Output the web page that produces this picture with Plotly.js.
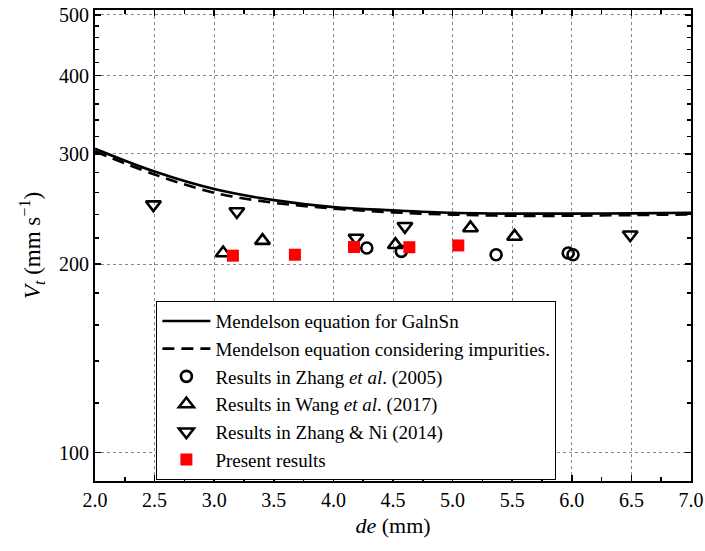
<!DOCTYPE html>
<html>
<head>
<meta charset="utf-8">
<script src="https://cdn.plot.ly/plotly-3.0.1.min.js"></script>
<style>
  html, body { margin: 0; padding: 0; background: #fff; }
  #chart { width: 705px; height: 551px; }
  #chart text, #chart tspan { font-family: 'Liberation Serif', serif !important; }
</style>
</head>
<body>
<div id="chart"></div>
<script>
// Curves
const curveX = [2.0, 2.5, 3.0, 3.5, 4.0, 4.5, 5.0, 5.5, 6.0, 6.5, 7.0];
const mendelsonY = [305.6, 281.0, 263.5, 253.0, 246.6, 243.7, 241.5, 240.8, 240.8, 241.0, 241.5];
const impuritiesY = [302.7, 278.0, 260.0, 250.6, 245.3, 241.9, 239.9, 238.9, 238.9, 239.5, 240.0];

// Zhang et al. (2005)
const zhang2005X = [4.28, 4.57, 5.365, 5.97, 6.01];
const zhang2005Y = [212.2, 209.6, 207.0, 208.3, 207.0];

// Wang et al. (2017)
const wang2017X = [3.075, 3.405, 4.52, 5.15, 5.52];
const wang2017Y = [208.3, 218.0, 214.8, 228.4, 221.4];

// Zhang & Ni (2014)
const zhangNiX = [2.49, 3.19, 4.19, 4.60, 6.49];
const zhangNiY = [248.9, 242.7, 220.1, 229.8, 222.8];

// Present results
const presentX = [3.157, 3.677, 4.173, 4.637, 5.048];
const presentY = [206.3, 207.0, 213.0, 212.8, 214.2];

// Tick definitions
const yTickVals = [100, 200, 300, 400, 500];
const yMinorVals = [120, 140, 160, 180, 220, 240, 260, 280, 320, 340, 360, 380, 420, 440, 460, 480];

const names = [
  'Mendelson equation for GalnSn',
  'Mendelson equation considering impurities.',
  'Results in Zhang <i>et al</i>. (2005)',
  'Results in Wang <i>et al</i>. (2017)',
  'Results in Zhang &amp; Ni (2014)',
  'Present results'
];

const FAM = 'Liberation Serif';

const traces = [
  { x: curveX, y: mendelsonY, mode: 'lines', name: names[0],
    line: { color: '#000', width: 2.6, shape: 'spline' } },
  { x: curveX, y: impuritiesY, mode: 'lines', name: names[1],
    line: { color: '#000', width: 2.6, shape: 'spline', dash: '12px,7px' } },
  { x: zhang2005X, y: zhang2005Y, mode: 'markers', name: names[2],
    marker: { symbol: 'circle-open', size: 11, color: '#000', line: { width: 2.6, color: '#000' } } },
  { x: wang2017X, y: wang2017Y, mode: 'markers', name: names[3],
    marker: { symbol: 'triangle-up-open', size: 13, color: '#000', line: { width: 2.6, color: '#000' } } },
  { x: zhangNiX, y: zhangNiY, mode: 'markers', name: names[4],
    marker: { symbol: 'triangle-down-open', size: 13, color: '#000', line: { width: 2.6, color: '#000' } } },
  { x: presentX, y: presentY, mode: 'markers', name: names[5],
    marker: { symbol: 'square', size: 12, color: '#ff0000', line: { width: 0 } } }
];

const layout = {
  width: 705, height: 551,
  margin: { l: 95, r: 14, t: 10, b: 70 },
  paper_bgcolor: '#fff', plot_bgcolor: '#fff',
  font: { family: FAM, size: 17, color: '#000' },
  showlegend: true,
  legend: {
    x: 0.103, y: 0.382, xanchor: 'left', yanchor: 'top',
    bgcolor: '#fff', bordercolor: '#000', borderwidth: 1,
    font: { family: FAM, size: 19, color: '#000' },
    tracegroupgap: 0, itemwidth: 48
  },
  xaxis: {
    range: [2.0, 7.0],
    tickmode: 'linear', tick0: 2.0, dtick: 0.5, tickformat: '.1f',
    ticks: 'inside', ticklen: 6, tickwidth: 1.5, tickcolor: '#000',
    showline: true, linecolor: '#000', linewidth: 2, mirror: 'ticks',
    showgrid: true, gridcolor: '#888', gridwidth: 1, griddash: '3px,3px',
    zeroline: false,
    minor: { tickmode: 'linear', tick0: 2.0, dtick: 0.25, ticks: 'inside', ticklen: 4, tickwidth: 1.5, tickcolor: '#000', showgrid: false },
    title: { text: '<i>de</i> (mm)', font: { family: FAM, size: 22, color: '#000' }, standoff: 8 },
    tickfont: { family: FAM, size: 20, color: '#000' }
  },
  yaxis: {
    type: 'log',
    range: [Math.log10(90.1), Math.log10(509)],
    tickmode: 'array', tickvals: yTickVals, ticktext: yTickVals.map(String),
    ticks: 'inside', ticklen: 6, tickwidth: 1.5, tickcolor: '#000',
    showline: true, linecolor: '#000', linewidth: 2, mirror: 'ticks',
    showgrid: true, gridcolor: '#888', gridwidth: 1, griddash: '3px,3px',
    zeroline: false,
    minor: { tickmode: 'array', tickvals: yMinorVals, ticks: 'inside', ticklen: 4, tickwidth: 1.5, tickcolor: '#000', showgrid: false },
    title: { text: '<i>V<sub>t</sub></i> (mm s<sup>−1</sup>)', font: { family: FAM, size: 23, color: '#000' }, standoff: 12 },
    tickfont: { family: FAM, size: 20, color: '#000' }
  }
};

Plotly.newPlot('chart', traces, layout, { staticPlot: true, displayModeBar: false });
</script>
</body>
</html>
